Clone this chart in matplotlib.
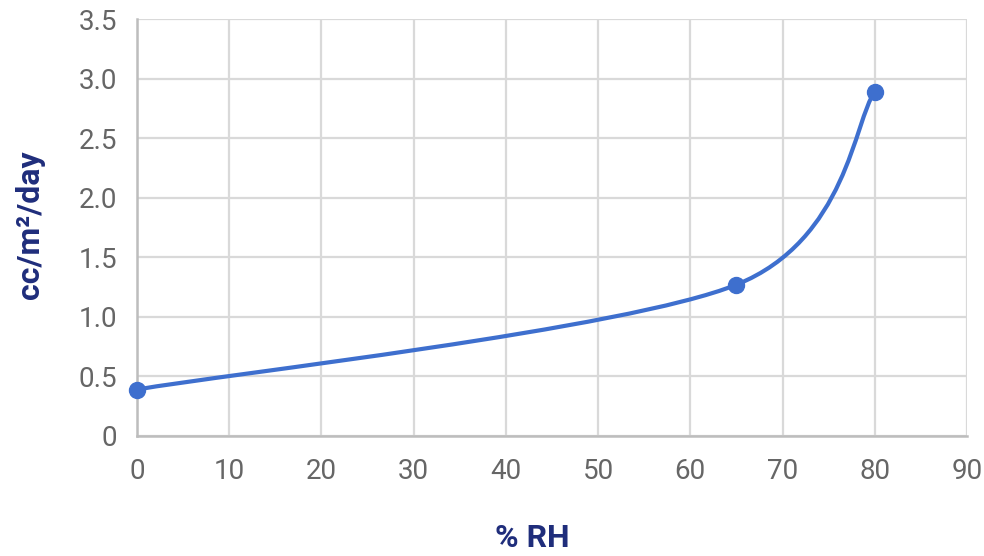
import numpy as np
import matplotlib
matplotlib.use('Agg')
import matplotlib.pyplot as plt
from matplotlib.path import Path
from matplotlib.patches import PathPatch

# data
rh = [0, 65, 80]
rate = [0.39, 1.27, 2.89]

x_ticks = [0, 10, 20, 30, 40, 50, 60, 70, 80, 90]
y_ticks = [0, 0.5, 1.0, 1.5, 2.0, 2.5, 3.0, 3.5]
y_tick_labels = ['0', '0.5', '1.0', '1.5', '2.0', '2.5', '3.0', '3.5']

line_col = '#3e6fce'
label_col = '#1f2d7b'
grid_col = '#d9d9d9'
tick_col = '#666666'

plt.rcParams['font.family'] = ['Roboto', 'DejaVu Sans']


def smooth_path(xs, ys, k=0.15):
    # cubic bezier through the points; tangents from neighbours,
    # end tangents along the end segments
    pts = np.column_stack([xs, ys]).astype(float)
    n = len(pts)
    tang = []
    for i in range(n):
        if i == 0:
            tang.append(pts[1] - pts[0])
        elif i == n - 1:
            tang.append(pts[-1] - pts[-2])
        else:
            tang.append(pts[i + 1] - pts[i - 1])
    verts = [pts[0]]
    codes = [Path.MOVETO]
    for i in range(n - 1):
        c1 = pts[i] + tang[i] * k
        c2 = pts[i + 1] - tang[i + 1] * k
        verts += [c1, c2, pts[i + 1]]
        codes += [Path.CURVE4] * 3
    return Path(verts, codes)


fig = plt.figure(figsize=(9.84, 5.56), dpi=100)
ax = fig.add_axes([137/984, 1 - 436/556, (967-137)/984, (436-19)/556])

ax.set_xlim(0, 90)
ax.set_ylim(0, 3.5)
ax.set_xticks(x_ticks)
ax.set_yticks(y_ticks)
ax.set_yticklabels(y_tick_labels)
ax.tick_params(axis='both', length=0, labelsize=20, colors=tick_col)
ax.tick_params(axis='x', pad=16)
ax.tick_params(axis='y', pad=14)

ax.grid(True, color=grid_col, linewidth=1.6)
ax.set_axisbelow(True)
for s in ['top', 'right']:
    ax.spines[s].set_visible(False)
for s in ['left', 'bottom']:
    ax.spines[s].set_color('#bdbdbd')
    ax.spines[s].set_linewidth(1.8)

patch = PathPatch(smooth_path(rh, rate), facecolor='none', edgecolor=line_col,
                  linewidth=3, capstyle='round', zorder=3)
ax.add_patch(patch)
ax.plot(rh, rate, 'o', color=line_col, markersize=11.5, zorder=4, clip_on=False)

fig.text(532/984, 1 - 538/556, '% RH', ha='center', va='center',
         fontsize=23, fontweight='bold', color=label_col)
fig.text(30/984, 1 - 225/556, 'cc/m²/day', ha='center', va='center', rotation=90,
         fontsize=23, fontweight='bold', color=label_col)

fig.savefig('out.png', dpi=100)
